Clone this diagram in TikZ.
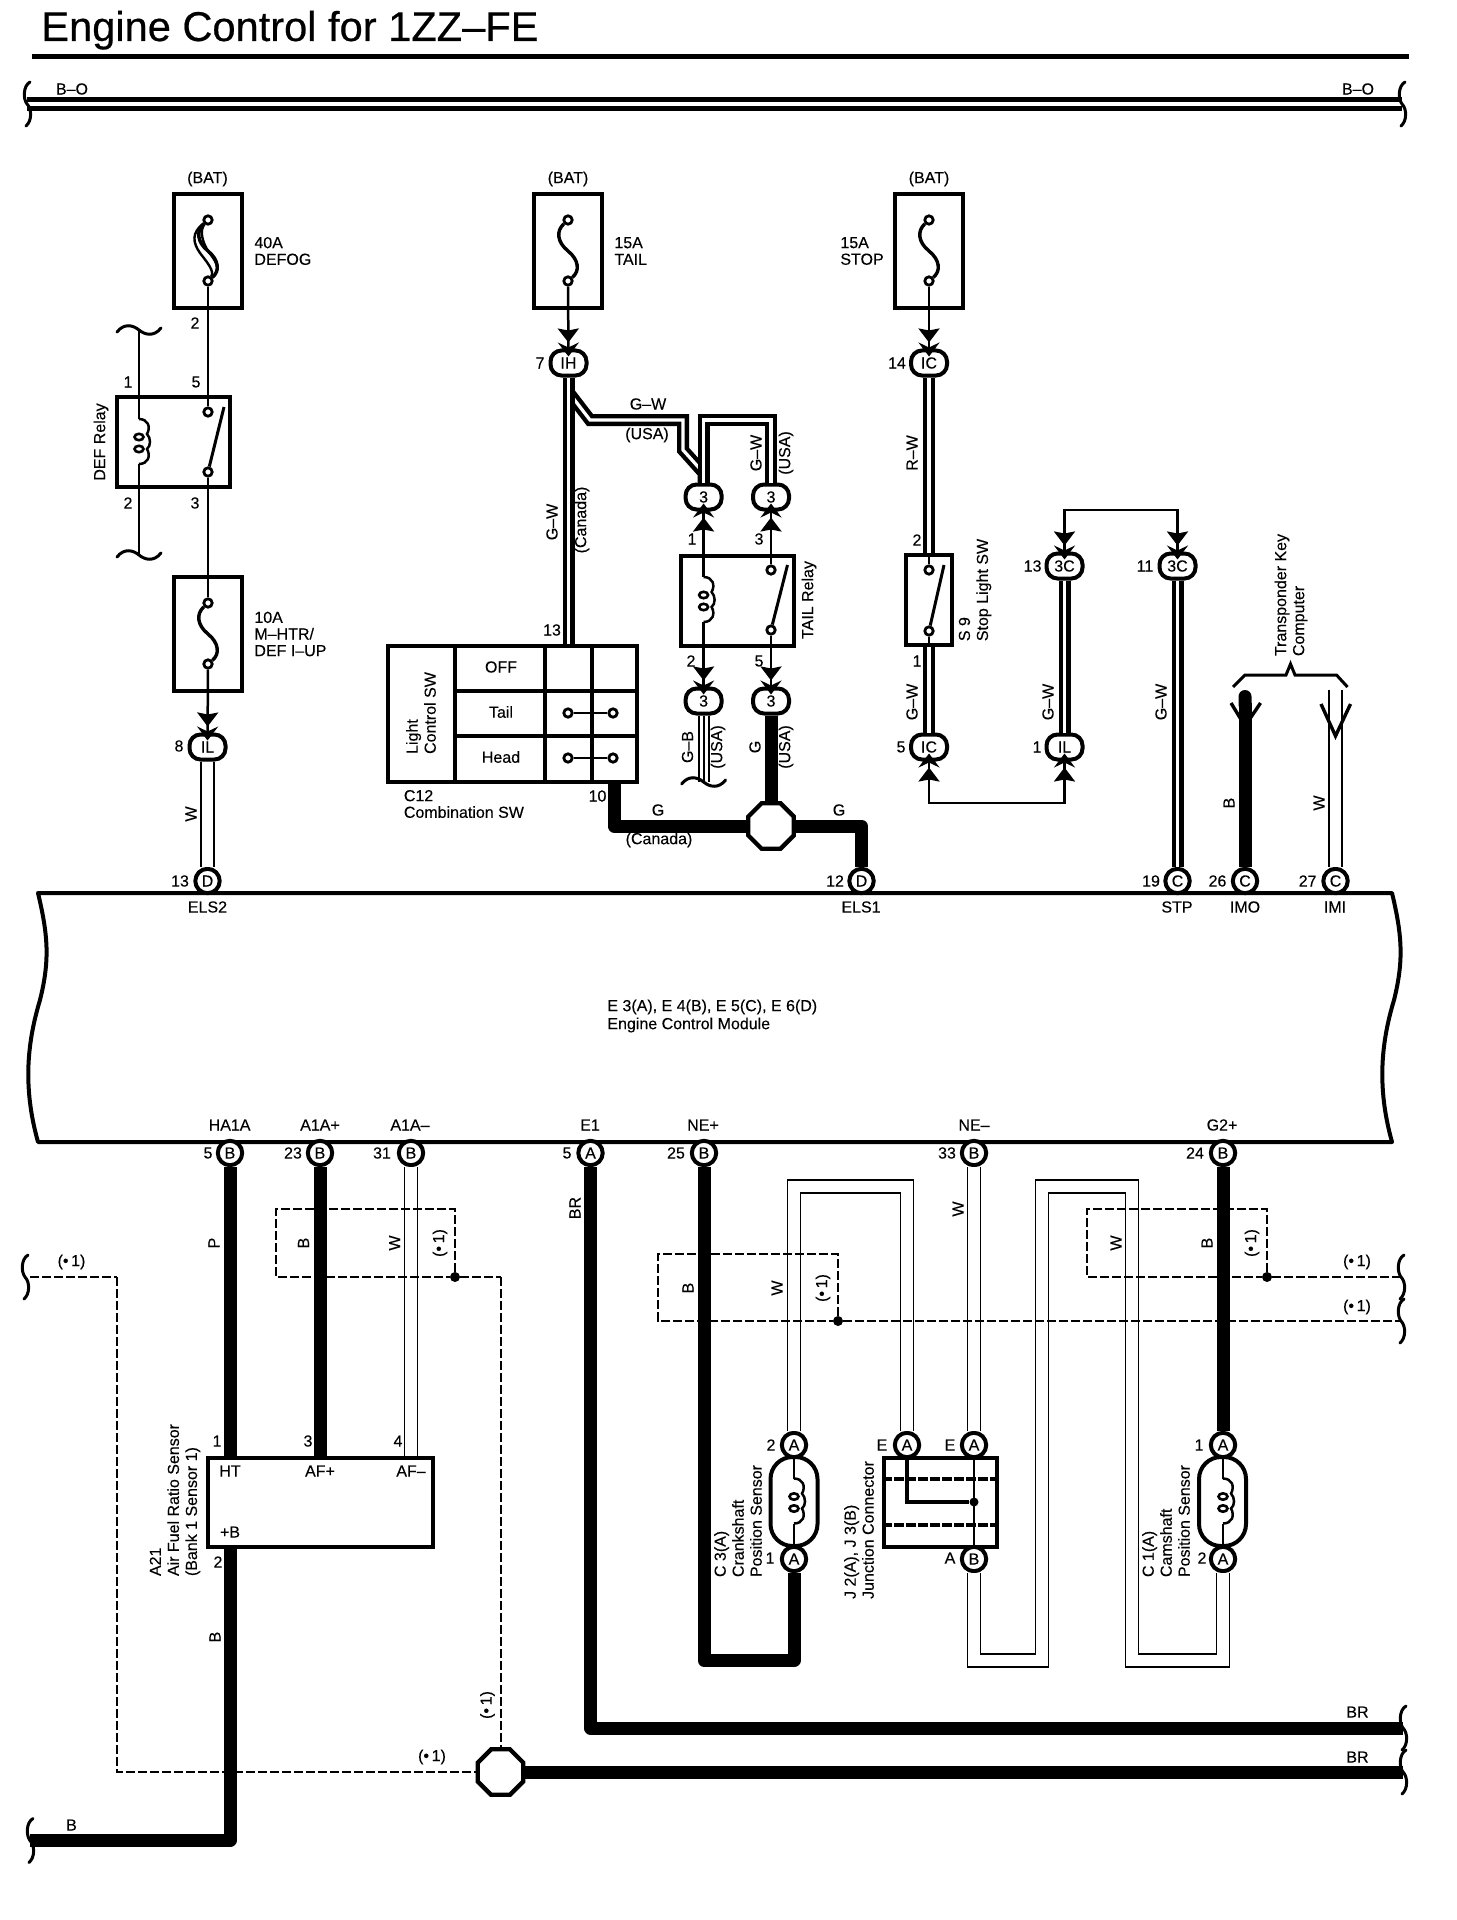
\documentclass[tikz,border=0pt]{standalone}
\usepackage{fontspec}
\setmainfont[FakeBold=0.2]{Liberation Sans}
\newfontfamily\titlefont[FakeBold=0.5]{Liberation Sans}
\usetikzlibrary{arrows.meta,shapes.geometric}

\begin{document}
\begin{tikzpicture}[
  x=0.5pt,y=-0.5pt,
  every node/.style={font=\fontsize{8}{8.3}\selectfont,inner sep=0pt},
  title/.style={font=\titlefont\fontsize{20.8}{22}\selectfont},
  rotlab/.style={rotate=90,align=left,font=\fontsize{8}{9}\selectfont},
  fusebox/.style={draw,line width=2pt,minimum width=34pt,minimum height=57pt},
  relaybox/.style={draw,line width=2pt,minimum width=56.5pt,minimum height=45pt},
  term/.style={circle,draw,fill=white,line width=1.4pt,minimum size=4.2pt},
  pill/.style={draw,fill=white,line width=2pt,rounded corners=5.5pt,
               minimum width=18pt,minimum height=12.5pt},
  cpin/.style={circle,draw,fill=white,line width=2pt,minimum size=12.2pt},
  oval/.style={draw,line width=2pt,rounded corners=11pt,
               minimum width=23.5pt,minimum height=44.5pt},
  oct/.style={draw,fill=white,regular polygon,regular polygon sides=8,
              minimum size=24.6pt,line width=2.2pt},
  dot/.style={circle,fill=black,minimum size=5pt},
  wire/.style={line width=1.25pt},
  tipa/.tip={Stealth[length=7pt,width=10.5pt,inset=1pt]Stealth[length=7pt,width=10.5pt,inset=2.5pt,sep=-4pt]},
  arr/.style={wire,-tipa},
  arrboth/.style={wire,tipa-tipa},
  blk/.style={line width=6.5pt,line join=round},
  gwire/.style={line width=2.2pt,double,double distance=1.6pt},
  wwire/.style={line width=0.8pt,double,double distance=5.6pt},
  dsh/.style={line width=1.4pt,dash pattern=on 4.5pt off 1.5pt},
  dshlong/.style={line width=1pt,dash pattern=on 4.5pt off 1.5pt},
  vcut/.pic={\draw[line width=1.5pt,line cap=round] (3,-22) .. controls (-4,-18) and (-4,-5) .. (0,0)
             .. controls (5,5) and (5,17) .. (-1,22);},
  hcut/.pic={\draw[line width=1.5pt,line cap=round] (-22,2) .. controls (-15,-7) and (-6,-5) .. (0,0)
             .. controls (6,5) and (15,7) .. (22,-2);},
  fuse/.pic={
    \node[fusebox] (-box) at (0,0) {};
    \node[term] (-top) at (0,-31) {};
    \node[term] (-bot) at (0,30) {};
    \draw[line width=1.7pt] (-top) .. controls (-12,-20) and (-11,-9) .. (0,0)
      .. controls (11,9) and (12,20) .. (-bot);
  },
  coil/.pic={
    \coordinate (-a) at (0,-23);
    \coordinate (-b) at (0,22);
    \draw[wire] (-a) .. controls (9,-23) and (12,-15) .. (8,-8)
      .. controls (12,-4) and (12,4) .. (8,7)
      .. controls (12,14) and (9,22) .. (-b);
    \draw[line width=1.3pt] (0,-5) circle [x radius=4.5,y radius=3.2];
    \draw[line width=1.3pt] (0,7) circle [x radius=4.5,y radius=3.2];
  }
]
  \useasboundingbox (0,0) rectangle (1456,1920);

  % title and battery bus
  \node[title,anchor=base west] (title) at (41,41) {Engine Control for 1ZZ–FE};
  \coordinate (ruleL) at (32,56.5);
  \coordinate (ruleR) at (1409,56.5);
  \draw[line width=2.5pt] (ruleL) -- (ruleR);
  \coordinate (busL) at (27,104);
  \coordinate (busR) at (1402,104);
  \draw[line width=2.5pt,double,double distance=2pt] (busL) -- (busR);
  \pic at (busL) {vcut};
  \pic at (busR) {vcut};

  % engine control module
  \draw[line width=2pt,line join=round] (38,893) -- (1392,893)
    .. controls (1402,935) and (1404,960) .. (1394,1000)
    .. controls (1382,1040) and (1376,1085) .. (1392,1142) -- (38,1142)
    .. controls (22,1085) and (28,1040) .. (40,1000)
    .. controls (50,960) and (48,935) .. cycle;
  \node[anchor=west,align=left,font=\fontsize{8}{9}\selectfont] (ecm) at (607,1016)
    {E 3(A), E 4(B), E 5(C), E 6(D)\\Engine Control Module};

  % fuses
  \pic (fuseA) at (208,251) {fuse};
  \pic (fuseB) at (568,251) {fuse};
  \pic (fuseC) at (929,251) {fuse};
  \pic (fuseD) at (208,634) {fuse};
  \draw[line width=1.2pt] (fuseA-top) .. controls (199,231) and (203,243) .. (208,251)
    .. controls (214,259) and (223,269) .. (fuseA-bot);
  \draw[line width=1.2pt] (fuseA-top) .. controls (191,233) and (193,243) .. (200,253)
    .. controls (206,261) and (215,271) .. (fuseA-bot);
  \node[anchor=west,align=left] (fuseAtxt) at (254,251) {40A\\DEFOG};
  \node[anchor=west,align=left] (fuseBtxt) at (614,251) {15A\\TAIL};
  \node[anchor=west,align=left] (fuseCtxt) at (840,251) {15A\\STOP};
  \node[anchor=west,align=left] (fuseDtxt) at (254,634) {10A\\M–HTR/\\DEF I–UP};

  % relays and stop switch
  \node[relaybox] (defRelay) at (173.5,442) {};
  \node[relaybox] (tailRelay) at (737.5,600.5) {};
  \node[fusebox,minimum width=23pt,minimum height=45pt] (stopSw) at (929,600) {};
  \pic (defCoil) at (139,442) {coil};
  \pic (tailCoil) at (703.6,600) {coil};
  \node[term] (defT1) at (208,412) {};
  \node[term] (defT2) at (208,472) {};
  \node[term] (tailT1) at (771,570) {};
  \node[term] (tailT2) at (771,630) {};
  \node[term] (stopT1) at (929,570) {};
  \node[term] (stopT2) at (929,631) {};
  \coordinate (defFree) at (224,407);
  \coordinate (tailFree) at (787.5,565);
  \coordinate (stopFree) at (944,565);
  \draw[line width=1.5pt] (defT2) -- (defFree);
  \draw[line width=1.5pt] (tailT2) -- (tailFree);
  \draw[line width=1.5pt] (stopT2) -- (stopFree);

  % light control switch
  \node[draw,line width=2pt,minimum width=124.5pt,minimum height=68pt] (lightSw) at (512,713.5) {};
  \foreach \cx in {455,545,592}
    \draw[line width=1.7pt] (\cx,645) -- (\cx,782);
  \foreach \ry in {691,736}
    \draw[line width=1.7pt] (455,\ry) -- (637,\ry);
  \node[rotlab] (lightTxt) at (421,713) {Light\\Control SW};
  \node (swOff) at (501,667) {OFF};
  \node (swTail) at (501,712) {Tail};
  \node (swHead) at (501,757) {Head};
  \node[term] (tailA) at (568,713) {};
  \node[term] (tailB) at (613,713) {};
  \node[term] (headA) at (568,758) {};
  \node[term] (headB) at (613,758) {};
  \draw[wire] (tailA) -- (tailB);
  \draw[wire] (headA) -- (headB);
  \node[anchor=west,align=left] (c12Txt) at (403.5,804) {C12\\Combination SW};

  % connectors of the upper half
  \node[pill] (pIH) at (568.5,363) {IH};
  \node[pill] (pICa) at (929,363) {IC};
  \node[pill] (pIL) at (207.5,747) {IL};
  \node[pill] (pT1) at (703.6,497) {3};
  \node[pill] (pT2) at (771,497) {3};
  \node[pill] (pT3) at (703.6,701) {3};
  \node[pill] (pT4) at (771,701) {3};
  \node[pill] (pICb) at (929,747) {IC};
  \node[pill] (pILb) at (1064.5,747) {IL};
  \node[pill] (p3Ca) at (1064.5,566) {3C};
  \node[pill] (p3Cb) at (1177.5,566) {3C};
  \node[cpin] (cD13) at (207.5,881) {D};
  \node[cpin] (cD12) at (861.5,881) {D};
  \node[cpin] (cC19) at (1177.5,881) {C};
  \node[cpin] (cC26) at (1245,881) {C};
  \node[cpin] (cC27) at (1335.5,881) {C};
  \node[oct] (octA) at (771,826) {};

  % connectors of the lower half
  \node[cpin] (cB5) at (230,1153) {B};
  \node[cpin] (cB23) at (320,1153) {B};
  \node[cpin] (cB31) at (411,1153) {B};
  \node[cpin] (cA5) at (590.5,1153) {A};
  \node[cpin] (cB25) at (704,1153) {B};
  \node[cpin] (cB33) at (974,1153) {B};
  \node[cpin] (cB24) at (1223,1153) {B};
  \node[draw,line width=2pt,minimum width=112.5pt,minimum height=44.5pt] (a21) at (320.5,1502) {};
  \node[draw,line width=2pt,minimum width=56.5pt,minimum height=44.5pt] (jBox) at (940.5,1502) {};
  \node[oval] (crank) at (794,1501.5) {};
  \node[oval] (cam) at (1222.5,1501.5) {};
  \node[cpin] (crankA) at (794,1445) {A};
  \node[cpin] (crankB) at (794,1559) {A};
  \node[cpin] (jE1) at (907,1445) {A};
  \node[cpin] (jE2) at (974,1445) {A};
  \node[cpin] (jB) at (974,1559) {B};
  \node[cpin] (camA) at (1223,1445) {A};
  \node[cpin] (camB) at (1223,1559) {A};
  \node[oct] (octB) at (500.5,1772) {};
  \node[dot] (dotA) at (455,1277) {};
  \node[dot] (dotB) at (838,1321) {};
  \node[dot] (dotC) at (1267,1277) {};
  \node[dot,minimum size=4.5pt] (jDot) at (974,1502) {};
  \pic (crankCoil) at (794,1501.5) {coil};
  \pic (camCoil) at (1223,1501.5) {coil};

  % helpers for the routed wires
  \coordinate (yBr) at (0,420);
  \coordinate (yTop) at (0,510);
  \coordinate (yLow) at (0,803);
  \coordinate (yLoopT) at (0,1186.5);
  \coordinate (yLoopB) at (0,1660.5);
  \coordinate (xLoopA) at (1042,0);
  \coordinate (xLoopB) at (1132,0);
  \coordinate (c10) at (614,783);
  \coordinate (imoEnd) at (1245,690);
  \coordinate (imiEnd) at (1335.5,690);
  \coordinate (endB) at (30,1840.5);
  \coordinate (endBRa) at (1403,1728);
  \coordinate (endBRb) at (1403,1772);

  % left branch
  \draw[wire] (fuseA-bot) -- (defT1);
  \draw[wire] (defT2) -- (fuseD-top);
  \coordinate (defCutA) at (139,330);
  \coordinate (defCutB) at (139,555);
  \draw[wire] (defCutA) -- (defCoil-a);
  \draw[wire] (defCoil-b) -- (defCutB);
  \pic at (defCutA) {hcut};
  \pic at (defCutB) {hcut};
  \draw[arr] (fuseD-bot) -- (pIL);
  \draw[wwire] (pIL) -- (cD13);

  % tail wiring
  \draw[arr] (fuseB-bot) -- (pIH);
  \coordinate (brStart) at (568.5,392);
  \draw[gwire] (brStart) -- (590,420) -- (683,420) -- (683,450) -- (703.6,473) -- (pT1);
  \draw[gwire] (pIH) -- (pIH |- lightSw.north);
  \draw[gwire] (pT1) -- (pT1 |- yBr) -- (pT2 |- yBr) -- (pT2);
  \draw[arr] (tailCoil-a) -- (pT1);
  \draw[arr] (tailT1) -- (pT2);
  \draw[arr] (tailCoil-b) -- (pT3);
  \draw[arr] (tailT2) -- (pT4);
  \coordinate (gbCut) at (703.6,782);
  \draw[line width=1pt,double,double distance=4pt] (pT3) -- (gbCut);
  \draw[line width=1pt] (pT3) -- (gbCut);
  \pic at (gbCut) {hcut};
  \draw[blk] (pT4) -- (octA);
  \draw[blk] (c10) |- (octA);
  \draw[blk] (octA) -| (cD12);

  % stop light wiring
  \draw[arr] (fuseC-bot) -- (pICa);
  \draw[gwire] (pICa) -- (stopSw.north -| pICa);
  \draw[wire] (stopSw.north -| pICa) -- (stopT1);
  \draw[gwire] (stopSw.south -| pICa) -- (pICb);
  \draw[wire] (stopT2) -- (stopSw.south -| pICa);
  \draw[arrboth] (pICb) -- (pICb |- yLow) -- (pILb |- yLow) -- (pILb);
  \draw[gwire] (p3Ca) -- (pILb);
  \draw[arrboth] (p3Ca) -- (p3Ca |- yTop) -- (p3Cb |- yTop) -- (p3Cb);
  \draw[gwire] (p3Cb) -- (cC19);

  % transponder key computer
  \draw[blk,{Round Cap[]}-] (imoEnd) -- (cC26);
  \draw[wwire] (imiEnd) -- (cC27);
  \draw[line width=1.7pt] (1231,703) -- (1245,726) -- (1260.5,703);
  \draw[line width=1.7pt] (1321,704) -- (1335.5,736) -- (1350.5,704);
  \draw[line width=1.5pt] (1233,687) -- (1245,675) -- (1286,675) -- (1290.5,664) -- (1295,675)
    -- (1336.5,675) -- (1347.5,687);

  % air fuel sensor wires
  \draw[blk] (cB5) -- (cB5 |- a21.north);
  \draw[blk] (cB5 |- a21.south) |- (endB);
  \draw[blk] (cB23) -- (cB23 |- a21.north);
  \draw[wwire] (cB31) -- (cB31 |- a21.north);
  \pic at (endB) {vcut};

  % crankshaft, camshaft and junction wires
  \draw[blk] (cA5) |- (endBRa);
  \draw[blk] (octB) -- (endBRb);
  \draw[blk] (cB25) -- (cB25 |- yLoopB) -| (crankB);
  \draw[blk] (cB24) -- (camA);
  \draw[wire] (crankA) -- (crankCoil-a);
  \draw[wire] (crankCoil-b) -- (crankB);
  \draw[wire] (camA) -- (camCoil-a);
  \draw[wire] (camCoil-b) -- (camB);
  \draw[wwire] (crankA) -- (crankA |- yLoopT) -- (jE1 |- yLoopT) -- (jE1);
  \draw[wwire] (cB33) -- (jE2);
  \draw[wwire] (jB) -- (jB |- yLoopB) -- (xLoopA |- yLoopB) -- (xLoopA |- yLoopT)
    -- (xLoopB |- yLoopT) -- (xLoopB |- yLoopB) -- (camB |- yLoopB) -- (camB);
  \draw[line width=1.8pt] (jE1) |- (jDot);
  \draw[wire] (jE2) -- (jB);
  \draw[line width=1.8pt,dash pattern=on 5pt off 1pt] (jBox.west |- 0,1479) -- (jBox.east |- 0,1479);
  \draw[line width=1.8pt,dash pattern=on 5pt off 1pt] (jBox.west |- 0,1525) -- (jBox.east |- 0,1525);

  % shield wires, drawn last
  \coordinate (dashL) at (30,1277);
  \coordinate (dashRa) at (1401,1277);
  \coordinate (dashRb) at (1401,1321);
  \draw[dsh] (dotA) -- (455,1209) -- (276,1209) -- (276,1277) -- (dotA);
  \draw[dsh] (dotA) -- (500.5,1277);
  \draw[dshlong] (500.5,1277) -- (octB);
  \draw[dsh] (dashL) -- (117,1277);
  \draw[dshlong] (117,1277) -- (117,1772) -- (octB);
  \draw[dsh] (dotB) -- (838,1254) -- (658,1254) -- (658,1321) -- (dotB);
  \draw[dsh] (dotB) -- (dashRb);
  \draw[dsh] (dotC) -- (1267,1209) -- (1087,1209) -- (1087,1277) -- (dotC);
  \draw[dsh] (dotC) -- (dashRa);
  \pic at (25,1277) {vcut};
  \pic at (dashRa) {vcut};
  \pic at (dashRb) {vcut};
  \pic at (endBRa) {vcut};
  \pic at (endBRb) {vcut};

  % horizontal labels
  \foreach \lx/\ly/\lt [count=\i] in {
    72/89/B–O,1358/89/B–O,207.5/179/(BAT),568/179/(BAT),929/179/(BAT),
    195/323/2,128/382/1,196/382/5,128/503/2,195/503/3,179/746/8,180/881/13,
    540/363/7,552/630/13,692/539/1,759/539/3,691/661/2,759/661/5,597.5/796/10,
    835/881/12,897/363/14,917/540/2,917/661/1,901/747/5,1037/747/1,1032.6/566/13,
    1145/566/11,1151/881/19,1217.5/881/26,1307.6/881/27,
    208/1153/5,293/1153/23,382/1153/31,567/1153/5,676/1153/25,947/1153/33,1195/1153/24,
    217/1441/1,308/1441/3,398/1441/4,218/1562/2,771/1445/2,882/1445/E,950/1445/E,
    1199/1445/1,770/1558/1,950/1558/A,1202/1558/2,
    648/404/G–W,647/435/(USA),658/810/G,839/810/G,659/840/(Canada),
    71.5/1825/B,1357.5/1757/BR,1357.5/1712/BR,
    71.5/1262/(•\,1),1357/1262/(•\,1),1357/1307/(•\,1),432/1757/(•\,1),
    207.5/907/ELS2,861/907/ELS1,1177/907/STP,1245/907/IMO,1335/907/IMI,
    229.6/1125/HA1A,320/1125/A1A+,410/1125/A1A–,590/1125/E1,703/1125/NE+,974/1125/NE–,1222/1125/G2+,
    230/1471/HT,320/1471/AF+,411/1471/AF–,230/1532/+B}
    \node (lab\i) at (\lx,\ly) {\lt};

  % rotated labels
  \foreach \lx/\ly/\lt [count=\i] in {
    552/522/G–W,582/520/(Canada),756/453/G–W,786/453/(USA),912/453/R–W,191/814/W,
    687.5/747/G–B,718/747/(USA),755/747/G,786/747/(USA),912/702/G–W,1048/702/G–W,
    1161/702/G–W,1229/803/B,1319/803/W,214/1243/P,303.5/1243/B,394.6/1243/W,440/1243/(•\,1),
    215/1637/B,575/1208/BR,688/1288/B,777/1288/W,823/1288/(•\,1),958/1209/W,
    1116/1243/W,1207/1243/B,1252/1243/(•\,1),487.5/1705/(•\,1),
    101/442/DEF Relay,809/600/TAIL Relay}
    \node[rotlab] (rot\i) at (\lx,\ly) {\lt};
  \node[rotlab] (stopTxt) at (975,590) {S 9\\Stop Light SW};
  \node[rotlab] (keyTxt) at (1291,595) {Transponder Key\\Computer};
  \node[rotlab] (a21Txt) at (175,1500) {A21\\Air Fuel Ratio Sensor\\(Bank 1 Sensor 1)};
  \node[rotlab] (crankTxt) at (738,1521) {C 3(A)\\Crankshaft\\Position Sensor};
  \node[rotlab] (jTxt) at (859,1530) {J 2(A), J 3(B)\\Junction Connector};
  \node[rotlab] (camTxt) at (1166,1521) {C 1(A)\\Camshaft\\Position Sensor};
\end{tikzpicture}
\end{document}
